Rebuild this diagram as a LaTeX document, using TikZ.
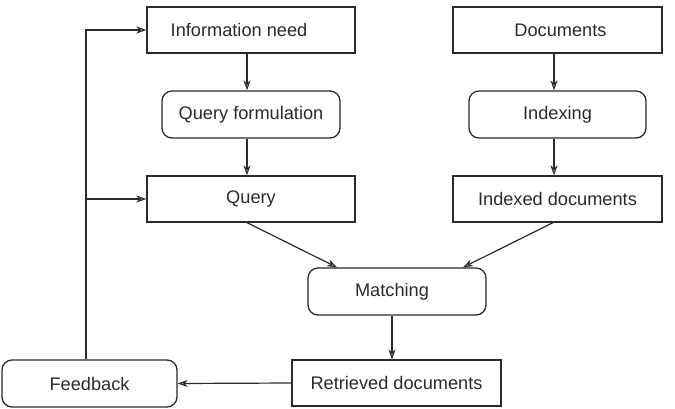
\documentclass[tikz,border=0pt]{standalone}
\usepackage{fontspec}
\setmainfont{Liberation Sans}
\usetikzlibrary{arrows.meta,calc}
\definecolor{ink}{HTML}{2A2A2A}
\begin{document}
\begin{tikzpicture}[x=1pt,y=-1pt,
  every node/.style={font=\fontsize{18.2}{21}\selectfont, text=ink},
  sqbox/.style={draw=ink, line width=1.3pt, inner sep=0pt},
  rdbox/.style={sqbox, rounded corners=10pt},
  arr/.style={draw=ink, line width=1.2pt, -{Stealth[open, length=10pt, width=7pt, inset=3pt]}},
  ln/.style={draw=ink, line width=1.2pt}]
\useasboundingbox (0,0) rectangle (675,408);
\node[sqbox, minimum width=208pt, minimum height=46pt] (info) at (251,30) {Information need\kern24pt};
\node[rdbox, minimum width=178pt, minimum height=47pt] (qf) at (251,114.5) {Query formulation};
\node[sqbox, minimum width=208pt, minimum height=46pt] (query) at (251,199) {Query};
\node[sqbox, minimum width=209pt, minimum height=46pt] (docs) at (557.5,30) {Documents\kern-6pt};
\node[rdbox, minimum width=177pt, minimum height=47pt] (idx) at (557.5,114.5) {Indexing};
\node[sqbox, minimum width=209pt, minimum height=46pt] (idocs) at (557.5,199) {Indexed documents};
\node[rdbox, minimum width=178pt, minimum height=47pt] (match) at (397,291.5) {Matching\kern10pt};
\node[sqbox, minimum width=209pt, minimum height=46pt] (ret) at (396.5,383) {Retrieved documents};
\node[rdbox, minimum width=175pt, minimum height=47pt] (fb) at (89.5,383.5) {Feedback};
\draw[arr] ([xshift=-4pt]info.south) -- ([xshift=-4pt]qf.north);
\draw[arr] ([xshift=-4pt]qf.south) -- ([xshift=-4pt]query.north);
\draw[arr] ([xshift=-3.5pt]docs.south) -- ([xshift=-3.5pt]idx.north);
\draw[arr] ([xshift=-3.5pt]idx.south) -- ([xshift=-3.5pt]idocs.north);
\draw[arr] ([xshift=-4pt]query.south) -- ([xshift=-60pt]match.north);
\draw[arr] ([xshift=-4.5pt]idocs.south) -- ([xshift=66pt]match.north);
\draw[arr] ([xshift=-5pt]match.south) -- ([xshift=-4.5pt]ret.north);
\draw[arr] (ret.west) -- (fb.east);
\draw[arr] ([xshift=-3.5pt]fb.north) |- (info.west);
\coordinate (br) at ([xshift=-3.5pt]fb.north |- query.west);
\draw[arr] (br) -- (query.west);
\end{tikzpicture}
\end{document}
